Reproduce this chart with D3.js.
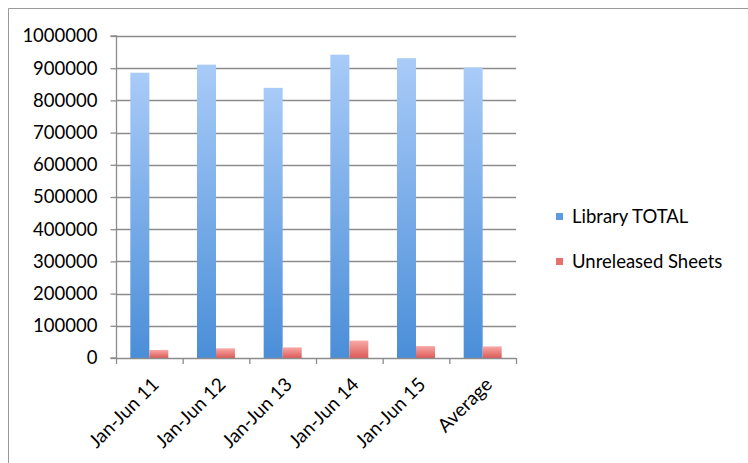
<!DOCTYPE html>
<html><head><meta charset="utf-8">
<script src="https://cdn.jsdelivr.net/npm/d3@7"></script>
<style>body{margin:0;background:#fff}svg{display:block}text{font-family:Lato,"Open Sans",sans-serif;fill:#000}</style>
</head><body><svg id="c" width="748" height="463"></svg>
<script>
const categories = ["Jan-Jun 11","Jan-Jun 12","Jan-Jun 13","Jan-Jun 14","Jan-Jun 15","Average"];
const seriesNames = ["Library TOTAL","Unreleased Sheets"];
const libraryTotal = [886000, 911000, 839000, 942000, 931000, 902000];
const unreleasedSheets = [25000, 30000, 33000, 54000, 37000, 36000];
const yTicks = [0,100000,200000,300000,400000,500000,600000,700000,800000,900000,1000000];

const svg = d3.select("#c");
const defs = svg.append("defs");
const g1 = defs.append("linearGradient").attr("id","gb").attr("x1",0).attr("y1",0).attr("x2",0).attr("y2",1);
g1.append("stop").attr("offset","0%").attr("stop-color","#a9cbf8");
g1.append("stop").attr("offset","100%").attr("stop-color","#4a8ed8");
const g2 = defs.append("linearGradient").attr("id","gr").attr("x1",0).attr("y1",0).attr("x2",0).attr("y2",1);
g2.append("stop").attr("offset","0%").attr("stop-color","#f7a9a7");
g2.append("stop").attr("offset","100%").attr("stop-color","#de5a57");
const colors = ["url(#gb)","url(#gr)"];
const swatch = ["#5b9be0","#e8716e"];

// frame
svg.append("path").attr("d","M8.5,463 V8.5 H748").attr("fill","none").attr("stroke","#9a9a9a").attr("stroke-width",1);

const L=116, R=516, T=36, B=358;
const x = d3.scaleBand().domain(categories).range([L,R]).paddingInner(0).paddingOuter(0);
const y = d3.scaleLinear().domain([0,1000000]).range([B,T]);

// gridlines
svg.append("g").selectAll("line").data(yTicks.filter(d=>d>0)).join("line")
  .attr("x1",L).attr("x2",R).attr("y1",d=>Math.round(y(d))+0.5).attr("y2",d=>Math.round(y(d))+0.5)
  .attr("stroke","#8c8c8c").attr("stroke-width",1.3);

// bars
const bw = 19, off = (x.bandwidth()-2*bw)/2;
const data = [libraryTotal, unreleasedSheets];
data.forEach((vals,si)=>{
  svg.append("g").selectAll("rect").data(vals).join("rect")
    .attr("x",(d,i)=>x(categories[i])+off+si*bw)
    .attr("y",d=>y(d)).attr("width",bw).attr("height",d=>B-y(d))
    .attr("fill",colors[si]);
});

// y axis
const ya = d3.axisLeft(y).tickValues(yTicks).tickSize(6).tickPadding(13).tickFormat(d3.format("d"));
const yg = svg.append("g").attr("transform",`translate(${L+0.5},0)`).call(ya);
yg.select(".domain").attr("stroke","#8c8c8c").attr("d",`M-6,${B}H0V${T}H-6`).attr("stroke-width",1.3);
yg.selectAll(".tick line").attr("stroke","#8c8c8c").attr("stroke-width",1.3);
yg.selectAll("text").style("font-size","18.5px").attr("font-family",null);

// x axis
const xTicks = categories.map(c=>x(c)).concat([R]);
svg.append("line").attr("x1",L).attr("x2",R).attr("y1",B+0.5).attr("y2",B+0.5).attr("stroke","#8c8c8c").attr("stroke-width",1.3);
svg.append("g").selectAll("line").data(xTicks).join("line")
  .attr("x1",d=>d+0.5).attr("x2",d=>d+0.5).attr("y1",B).attr("y2",B+6)
  .attr("stroke","#8c8c8c").attr("stroke-width",1.3);
svg.append("g").selectAll("text").data(categories).join("text")
  .attr("transform",d=>`translate(${x(d)+x.bandwidth()/2+6},${B+23}) rotate(-45)`)
  .attr("text-anchor","end").attr("dy","0.35em").style("font-size","19px").text(d=>d);

// legend
const lg = svg.append("g");
seriesNames.forEach((n,i)=>{
  const yy = 217 + i*45;
  lg.append("rect").attr("x",556).attr("y",yy-4).attr("width",7).attr("height",7).attr("fill",swatch[i]);
  lg.append("text").attr("x",572).attr("y",yy).attr("dy","0.35em").style("font-size","18.5px").text(n);
});
</script></body></html>
